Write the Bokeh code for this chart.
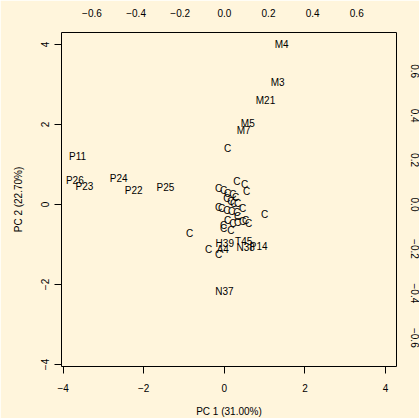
from bokeh.plotting import figure
from bokeh.models import (ColumnDataSource, Range1d, LinearAxis, FixedTicker,
                          CustomJSTickFormatter)
from bokeh.core.properties import value
from bokeh.embed import file_html
from bokeh.resources import INLINE

# PCA scores (PC1, PC2) with sample labels
labels = ["M4", "M3", "M21", "M5", "M7", "C",
          "P11", "P26", "P23", "P24", "P22", "P25",
          "C", "C", "C", "C", "C", "C", "C", "C", "C", "C", "C", "C",
          "C", "C", "C", "C", "C", "C", "C", "C", "C", "C", "C", "C",
          "C", "C", "C", "C",
          "C", "C",
          "H39", "T45", "N38", "P14", "C", "A4", "C", "N37"]
pc1 = [1.42, 1.32, 1.02, 0.58, 0.48, 0.08,
       -3.64, -3.71, -3.47, -2.62, -2.25, -1.46,
       0.31, 0.50, 0.55, -0.14, -0.02, 0.08, 0.21, 0.28, 0.06, 0.16, 0.23, 0.33,
       -0.14, -0.07, 0.06, 0.18, 0.31, 0.45, 0.33, 0.08, -0.02, 0.21, 0.33, 0.45,
       0.53, 0.60, -0.02, 0.16,
       1.00, -0.86,
       0.01, 0.48, 0.53, 0.85, -0.39, -0.04, -0.14, 0.00]
pc2 = [4.00, 3.05, 2.60, 2.02, 1.85, 1.40,
       1.20, 0.60, 0.45, 0.65, 0.35, 0.43,
       0.58, 0.50, 0.33, 0.40, 0.35, 0.28, 0.25, 0.18, 0.15, 0.08, 0.03, 0.03,
       -0.08, -0.10, -0.15, -0.18, -0.20, -0.10, -0.30, -0.40, -0.53, -0.48, -0.45, -0.43,
       -0.40, -0.48, -0.60, -0.65,
       -0.25, -0.73,
       -0.98, -0.93, -1.08, -1.05, -1.13, -1.13, -1.25, -2.18]

main_ticks = [-4, -2, 0, 2, 4]
loading_ticks = [-0.6, -0.4, -0.2, 0.0, 0.2, 0.4, 0.6]

BG = "#FFF5DC"
FONT = "Liberation Sans"

p = figure(width=419, height=418, output_backend="svg", toolbar_location=None,
           x_range=Range1d(-4.04, 4.27), y_range=Range1d(-4.05, 4.30),
           min_border_left=61, min_border_right=23, min_border_top=32,
           min_border_bottom=52, frame_width=335, frame_height=334)
p.background_fill_color = BG
p.border_fill_color = BG
p.outline_line_color = "black"
p.outline_line_width = 1
p.grid.visible = False
p.extra_x_ranges = {"load": Range1d(-0.738, 0.780)}
p.extra_y_ranges = {"load": Range1d(-0.729, 0.774)}

fmt_int = CustomJSTickFormatter(code="return String(tick).replace('-', '\u2212');")
fmt_dec = CustomJSTickFormatter(code="return tick.toFixed(1).replace('-', '\u2212');")

for ax in (p.xaxis[0], p.yaxis[0]):
    ax.ticker = FixedTicker(ticks=main_ticks)
    ax.formatter = fmt_int
    ax.axis_line_color = None
    ax.major_tick_out = 7
    ax.major_tick_in = 0
    ax.minor_tick_line_color = None
    ax.major_tick_line_color = "black"
    ax.major_label_text_font = FONT
    ax.major_label_text_font_size = "10px"
    ax.major_label_text_color = "black"
    ax.axis_label_text_font = FONT
    ax.axis_label_text_font_size = "10px"
    ax.axis_label_text_font_style = "normal"
    ax.axis_label_text_color = "black"

p.xaxis[0].axis_label = "PC 1 (31.00%)"
p.xaxis[0].major_label_standoff = 10
p.xaxis[0].axis_label_standoff = 11
p.yaxis[0].axis_label = "PC 2 (22.70%)"
p.yaxis[0].major_label_orientation = "vertical"
p.yaxis[0].major_label_standoff = 6
p.yaxis[0].axis_label_standoff = 14

top = LinearAxis(x_range_name="load", ticker=FixedTicker(ticks=loading_ticks),
                 formatter=fmt_dec)
right = LinearAxis(y_range_name="load", ticker=FixedTicker(ticks=loading_ticks),
                   formatter=fmt_dec)
for ax in (top, right):
    ax.axis_line_color = None
    ax.major_tick_line_color = None
    ax.major_tick_out = 0
    ax.major_tick_in = 0
    ax.minor_tick_line_color = None
    ax.major_label_text_font = FONT
    ax.major_label_text_font_size = "10px"
    ax.major_label_text_color = "black"
top.major_label_standoff = 16
right.major_label_standoff = 14
right.major_label_orientation = "vertical"
p.add_layout(top, "above")
p.add_layout(right, "right")

src = ColumnDataSource(dict(x=pc1, y=pc2, lab=labels))
p.text(x="x", y="y", text="lab", source=src, text_align="center",
       text_baseline="middle", text_font=value(FONT), text_font_size="10px",
       text_color="black")

html = file_html(p, INLINE)
html = html.replace("<body>", '<body style="margin:0;background:%s;">' % BG, 1)
open("out.html", "w").write(html)
